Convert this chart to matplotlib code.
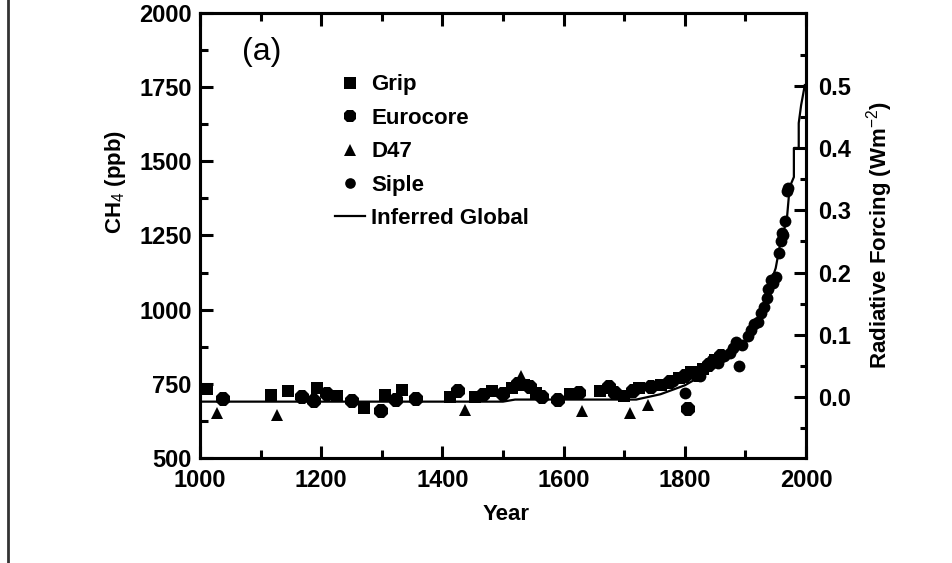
import matplotlib
matplotlib.use("Agg")
import matplotlib.pyplot as plt
from matplotlib import font_manager
from matplotlib.lines import Line2D

avail = {f.name for f in font_manager.fontManager.ttflist}
FAM = 'Liberation Sans' if 'Liberation Sans' in avail else 'DejaVu Sans'
plt.rcParams['font.family'] = [FAM, 'DejaVu Sans']
plt.rcParams['mathtext.fontset'] = 'custom'
plt.rcParams['mathtext.rm'] = FAM
plt.rcParams['mathtext.it'] = FAM + ':italic'
plt.rcParams['mathtext.bf'] = FAM + ':bold'

# ---------------- data ----------------
grip_years = [1012, 1117, 1145, 1193, 1226, 1271, 1305, 1334, 1412, 1454, 1482, 1515,
              1535, 1555, 1610, 1660, 1700, 1725, 1760, 1790, 1810, 1830, 1850]
grip_ppb = [733, 712, 726, 736, 709, 668, 712, 729, 706, 706, 726, 735,
            745, 720, 715, 725, 710, 735, 745, 770, 790, 800, 830]

eurocore_years = [1038, 1168, 1188, 1210, 1251, 1298, 1323, 1356, 1426, 1467, 1500, 1525,
                  1545, 1565, 1590, 1625, 1675, 1685, 1715, 1745, 1775, 1800, 1805, 1820,
                  1840, 1860]
eurocore_ppb = [699, 705, 692, 716, 692, 658, 695, 699, 726, 712, 715, 750,
                740, 705, 695, 720, 740, 720, 725, 740, 755, 775, 665, 780,
                815, 845]

d47_years = [1028, 1127, 1437, 1530, 1630, 1710, 1740]
d47_ppb = [652, 645, 662, 775, 660, 650, 680]

siple_years = [1780, 1800, 1815, 1825, 1845, 1855, 1865, 1875, 1880, 1885, 1890, 1895,
               1905, 1910, 1915, 1920, 1925, 1930, 1935, 1938, 1942, 1945, 1950, 1955,
               1958, 1960, 1962, 1965, 1968, 1970]
siple_ppb = [760, 720, 790, 775, 830, 820, 845, 855, 870, 890, 810, 880,
             910, 930, 950, 960, 990, 1010, 1040, 1070, 1100, 1090, 1110, 1190,
             1230, 1260, 1250, 1300, 1400, 1410]

global_years = [1000, 1500, 1520, 1720, 1760, 1800, 1830, 1860, 1880, 1900, 1920, 1930,
                1940, 1950, 1960, 1968, 1973, 1980, 1980, 1988, 1988, 1992, 1995, 1998]
global_ppb = [690, 690, 697, 697, 715, 745, 780, 820, 850, 890, 950, 1010,
              1080, 1140, 1250, 1295, 1413, 1447, 1545, 1545, 1629, 1690, 1723, 1757]

ppb_ticks = [500, 750, 1000, 1250, 1500, 1750, 2000]
year_ticks = [1000, 1200, 1400, 1600, 1800, 2000]
forcing_ticks = [0.0, 0.1, 0.2, 0.3, 0.4, 0.5]
forcing_labels = ['0.0', '0.1', '0.2', '0.3', '0.4', '0.5']
FORCING_ZERO_PPB = 706      # CH4 level at zero forcing
PPB_PER_WM2 = 2096          # CH4 change per 1 W m-2

# ---------------- figure ----------------
W, H = 952, 563
fig = plt.figure(figsize=(W / 100, H / 100), dpi=100)
L, R, B, T = 200, 806, 458, 13
ax = fig.add_axes([L / W, 1 - B / H, (R - L) / W, (B - T) / H])

TFS = 17   # tick labels
LFS = 16   # axis labels / legend

ax.plot(grip_years, grip_ppb, 's', color='black', ms=9, mew=0, label='Grip', zorder=3)
ax.plot(eurocore_years, eurocore_ppb, '8', color='black', ms=10.5, mew=0, label='Eurocore', zorder=3)
ax.plot(d47_years, d47_ppb, '^', color='black', ms=9, mew=0, label='D47', zorder=3)
ax.plot(siple_years, siple_ppb, 'o', color='black', ms=8.5, mew=0, label='Siple', zorder=3)
ax.plot(global_years, global_ppb, '-', color='black', lw=1.6, label='Inferred Global', zorder=2)

ax.set_xlim(1000, 2000)
ax.set_ylim(500, 2000)
ax.set_xticks(year_ticks)
ax.set_xticks([y + 100 for y in year_ticks[:-1]], minor=True)
ax.set_yticks(ppb_ticks)
ax.set_yticks([p + 125 for p in ppb_ticks[:-1]], minor=True)

for s in ax.spines.values():
    s.set_linewidth(2.2)

ax.tick_params(axis='x', which='both', direction='in', top=True, bottom=True,
               width=2.2, labelsize=TFS, pad=8)
ax.tick_params(axis='x', which='major', length=9)
ax.tick_params(axis='x', which='minor', length=6)
ax.tick_params(axis='y', which='both', direction='in', left=True, right=False,
               width=2.2, labelsize=TFS, pad=6)
ax.tick_params(axis='y', which='major', length=9)
ax.tick_params(axis='y', which='minor', length=5.5)
for lab in ax.get_xticklabels() + ax.get_yticklabels():
    lab.set_fontweight('bold')

ax.set_xlabel('Year', fontsize=LFS, fontweight='bold')
ax.xaxis.set_label_coords(0.505, -0.128)
ax.xaxis.label.set_va('center')
ax.set_ylabel('CH$_4$ (ppb)', fontsize=LFS, fontweight='bold')
ax.yaxis.set_label_coords(-0.139, 0.62)
ax.yaxis.label.set_va('center')

# right axis: radiative forcing
ax2 = ax.twinx()
ax2.set_ylim(ax.get_ylim())
ax2.set_yticks([FORCING_ZERO_PPB + f * PPB_PER_WM2 for f in forcing_ticks])
ax2.set_yticklabels(forcing_labels)
ax2.set_yticks([FORCING_ZERO_PPB + (f - 0.05) * PPB_PER_WM2 for f in forcing_ticks + [0.6]], minor=True)
ax2.tick_params(axis='y', which='both', direction='in', width=2.2, labelsize=TFS, pad=9)
ax2.tick_params(axis='y', which='major', length=9)
ax2.tick_params(axis='y', which='minor', length=4)
for lab in ax2.get_yticklabels():
    lab.set_fontweight('bold')
for s in ax2.spines.values():
    s.set_linewidth(2.2)
ax2.set_ylabel('Radiative Forcing (Wm$^{-2}$)', fontsize=LFS, fontweight='bold')
ax2.yaxis.set_label_coords(1.122, 0.5)
ax2.yaxis.label.set_va('center')

ax.text(0.102, 0.912, '(a)', transform=ax.transAxes, fontsize=23,
        ha='center', va='center')

leg = ax.legend(loc='upper left', bbox_to_anchor=(0.222, 0.862), frameon=False,
                fontsize=LFS, handlelength=1.35, handletextpad=0.3,
                labelspacing=0.56, borderpad=0, borderaxespad=0, numpoints=1,
                markerscale=0.9)
for t in leg.get_texts():
    t.set_fontweight('bold')

# thin vertical rule at the far left of the figure
fig.add_artist(Line2D([8 / W, 8 / W], [0, 1], transform=fig.transFigure,
                      color='#333333', lw=2))

fig.savefig('out.png', dpi=100)
